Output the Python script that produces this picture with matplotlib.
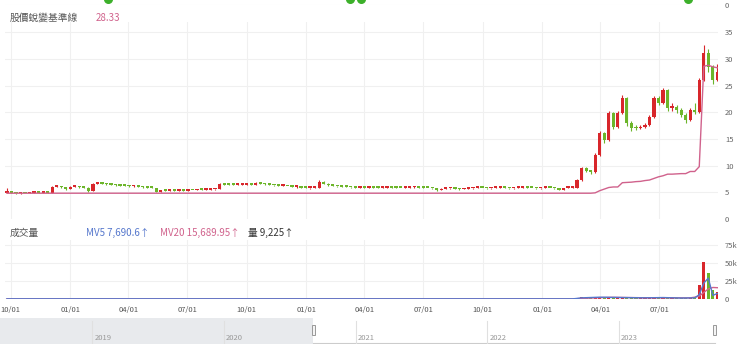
import numpy as np
import pandas as pd
import matplotlib
matplotlib.use('Agg')
import matplotlib.pyplot as plt
import matplotlib.dates as mdates
from matplotlib.patches import Rectangle

plt.rcParams['font.family'] = ['Noto Sans CJK TC', 'DejaVu Sans']

W, H = 740, 350

# weekly candles
week_start = '2020-09-25'
first_open = 4.9
closes = [5.2, 4.9, 4.8, 4.9, 4.85, 4.9, 4.95, 4.9, 5.0, 4.95,
          6.0, 6.1, 5.95, 5.6, 6.0, 6.05, 5.95, 5.9, 5.2, 6.6,
          6.7, 6.6, 6.5, 6.4, 6.3, 6.25, 6.2, 6.1, 6.3, 6.0,
          5.95, 5.9, 5.85, 5.1, 5.3, 5.25, 5.35, 5.3, 5.4, 5.3,
          5.45, 5.4, 5.5, 5.45, 5.5, 5.55, 5.6, 6.5, 6.45, 6.4,
          6.35, 6.4, 6.45, 6.5, 6.4, 6.7, 6.6, 6.5, 6.4, 6.3,
          6.2, 6.2, 6.15, 6.0, 6.0, 5.9, 5.8, 5.8, 5.85, 7.0,
          6.6, 6.3, 6.2, 6.1, 6.05, 6.0, 5.95, 5.9, 5.95, 5.9,
          6.0, 5.9, 5.85, 5.9, 5.95, 5.9, 5.85, 5.8, 5.9, 5.95,
          6.0, 5.9, 5.85, 5.8, 5.75, 5.4, 5.7, 5.75, 5.8, 5.7,
          5.6, 5.7, 5.75, 5.8, 5.85, 5.8, 5.75, 5.8, 5.85, 5.9,
          5.8, 5.75, 5.8, 5.85, 5.9, 5.85, 5.8, 5.75, 5.8, 5.85,
          5.8, 5.75, 5.5, 5.8, 5.85, 5.9, 7.3, 9.6, 9.0, 8.8,
          12.0, 16.1, 14.8, 19.9, 17.3, 19.9, 22.7, 18.0, 17.1, 17.0,
          17.3, 17.6, 19.1, 22.7, 21.8, 24.2, 20.8, 21.0, 20.4, 19.5,
          18.6, 20.4, 20.1, 26.1, 31.1, 28.5, 26.1, 27.6]
highs = [5.9, 5.25, 4.95, 5.0, 4.95, 5.0, 5.05, 5.0, 5.1, 5.05,
         6.2, 6.3, 6.2, 6.0, 6.1, 6.15, 6.1, 6.0, 5.95, 6.8,
         6.9, 6.8, 6.7, 6.6, 6.5, 6.4, 6.3, 6.3, 6.45, 6.35,
         6.1, 6.0, 5.95, 5.9, 5.4, 5.4, 5.45, 5.4, 5.5, 5.45,
         5.55, 5.5, 5.6, 5.55, 5.6, 5.65, 5.7, 6.7, 6.6, 6.55,
         6.5, 6.5, 6.55, 6.6, 6.55, 6.85, 6.75, 6.65, 6.55, 6.45,
         6.35, 6.3, 6.25, 6.2, 6.1, 6.05, 5.95, 5.9, 5.95, 7.3,
         7.1, 6.7, 6.35, 6.25, 6.15, 6.1, 6.05, 6.0, 6.05, 6.0,
         6.1, 6.05, 5.95, 6.0, 6.05, 6.0, 5.95, 5.9, 6.0, 6.05,
         6.1, 6.05, 5.95, 5.9, 5.85, 5.8, 5.8, 5.85, 5.9, 5.85,
         5.75, 5.8, 5.85, 5.9, 5.95, 5.9, 5.85, 5.9, 5.95, 6.0,
         5.95, 5.85, 5.9, 5.95, 6.0, 5.95, 5.9, 5.85, 5.9, 5.95,
         5.9, 5.85, 5.8, 5.9, 5.95, 6.1, 7.5, 9.8, 9.7, 9.2,
         12.3, 16.5, 16.3, 20.3, 20.0, 20.2, 23.2, 22.9, 18.4, 17.6,
         17.7, 18.0, 19.5, 23.0, 23.0, 24.6, 24.4, 21.8, 21.4, 20.8,
         19.8, 20.8, 21.8, 26.5, 32.5, 31.8, 28.8, 29.0]
lows = [4.85, 4.8, 4.7, 4.75, 4.8, 4.8, 4.85, 4.85, 4.85, 4.9,
        4.95, 5.95, 5.9, 5.5, 5.6, 5.95, 5.9, 5.85, 5.1, 5.2,
        6.55, 6.5, 6.45, 6.35, 6.25, 6.2, 6.1, 6.05, 6.05, 5.95,
        5.9, 5.85, 5.8, 5.0, 5.05, 5.2, 5.2, 5.2, 5.25, 5.25,
        5.25, 5.35, 5.35, 5.4, 5.4, 5.45, 5.5, 5.6, 6.4, 6.35,
        6.3, 6.3, 6.35, 6.4, 6.35, 6.35, 6.55, 6.45, 6.35, 6.25,
        6.15, 6.1, 6.1, 5.95, 5.9, 5.85, 5.75, 5.7, 5.75, 5.85,
        6.5, 6.25, 6.15, 6.05, 6.0, 5.95, 5.9, 5.85, 5.85, 5.85,
        5.85, 5.85, 5.8, 5.8, 5.85, 5.85, 5.8, 5.75, 5.75, 5.85,
        5.9, 5.85, 5.8, 5.75, 5.7, 5.3, 5.35, 5.65, 5.7, 5.65,
        5.5, 5.55, 5.65, 5.7, 5.75, 5.75, 5.7, 5.7, 5.75, 5.8,
        5.75, 5.7, 5.7, 5.75, 5.8, 5.8, 5.75, 5.7, 5.7, 5.75,
        5.75, 5.7, 5.4, 5.45, 5.75, 5.8, 5.9, 7.2, 8.8, 8.5,
        8.7, 11.8, 14.2, 14.6, 16.8, 17.0, 19.6, 17.5, 16.4, 16.6,
        16.8, 17.1, 17.4, 18.9, 21.3, 21.5, 20.3, 20.2, 19.9, 19.1,
        18.0, 18.3, 19.6, 19.9, 25.8, 27.5, 25.3, 25.8]

baseline = [4.83] * 130 + [4.9, 5.3, 5.6, 5.9, 6.0, 6.0, 6.8, 6.85, 6.9, 7.0,
                           7.05, 7.2, 7.3, 7.6, 7.9, 8.1, 8.4, 8.4, 8.45, 8.5,
                           8.5, 8.9, 8.9, 9.8, 28.6, 28.8, 28.5, 28.33]

# volume in thousands
volume = [0.2] * 126 + [1.5, 2.5, 1.8, 1.4, 2.8, 3.2, 2.4, 2.6, 2.0, 1.8,
                        2.4, 2.2, 1.6, 1.4, 1.5, 1.6, 2.0, 2.3, 1.9, 2.1,
                        1.7, 1.5, 1.3, 1.2, 1.6, 1.8, 2.0, 19.0, 52.0, 36.0,
                        12.0, 9.225]
mv5 = [0.2] * 126 + [0.8, 1.6, 1.8, 1.9, 2.2, 2.5, 2.4, 2.3, 2.2, 2.1,
                     2.0, 2.0, 1.9, 1.8, 1.7, 1.6, 1.7, 1.9, 2.0, 2.0,
                     1.8, 1.6, 1.4, 1.3, 1.4, 1.5, 1.6, 6.0, 22.0, 29.0,
                     5.0, 7.6906]
mv20 = [0.2] * 126 + [0.5, 0.9, 1.2, 1.4, 1.6, 1.9, 2.1, 2.2, 2.3, 2.2,
                      2.1, 2.1, 2.0, 1.9, 1.8, 1.8, 1.8, 1.9, 1.9, 1.9,
                      1.8, 1.7, 1.6, 1.5, 1.5, 1.6, 2.5, 4.0, 9.0, 14.0,
                      16.0, 15.68995]

event_dates = ['2021-03-01', '2022-03-10', '2022-03-26', '2023-08-15']
quarter_ticks = ['2020-10-01', '2021-01-01', '2021-04-01', '2021-07-01',
                 '2021-10-01', '2022-01-01', '2022-04-01', '2022-07-01',
                 '2022-10-01', '2023-01-01', '2023-04-01', '2023-07-01']
nav_years = ['2019', '2020', '2021', '2022', '2023']
price_ticks = [0, 5, 10, 15, 20, 25, 30, 35]
vol_ticks = [0, 25, 50, 75]
vol_tick_labels = ['0', '25k', '50k', '75k']

RED = '#d8262b'
GREEN = '#6cb52a'
PINK = '#d0628c'
BLUE = '#5577cc'
GRID = '#f0f0f0'
LABEL = '#666666'
TICK_FS = 5.5

dates = pd.date_range(week_start, periods=len(closes), freq='7D')
x = mdates.date2num(dates)
opens = [first_open] + closes[:-1]
up = [c >= o for o, c in zip(opens, closes)]
colors = [RED if u else GREEN for u in up]

x0 = mdates.date2num(pd.Timestamp('2020-09-22'))
x1 = mdates.date2num(pd.Timestamp('2023-09-30'))
qticks = mdates.date2num(pd.to_datetime(quarter_ticks))


def px_axes(fig, l, t, r, b):
    return fig.add_axes([l / W, 1 - b / H, (r - l) / W, (b - t) / H])


def clean(ax):
    for s in ax.spines.values():
        s.set_visible(False)
    ax.tick_params(length=0)


fig = plt.figure(figsize=(W / 100, H / 100), dpi=100)

# thin strip on top (cut off panel above)
ax0 = px_axes(fig, 5, 0, 718, 5)
clean(ax0)
ax0.set_xlim(x0, x1)
ax0.set_ylim(0, 1)
ax0.axhline(0, color='#eeeeee', lw=0.8)
ax0.scatter(mdates.date2num(pd.to_datetime(event_dates)), [1.2] * len(event_dates),
            s=30, color='#3cb02a', clip_on=False, zorder=3)
ax0.set_xticks([])
ax0.yaxis.tick_right()
ax0.set_yticks([0])
ax0.set_yticklabels(['0'], fontsize=TICK_FS, color=LABEL)
ax0.tick_params(axis='y', pad=5)

# price panel
ax = px_axes(fig, 5, 22, 718, 219)
clean(ax)
ax.set_xlim(x0, x1)
ax.set_ylim(0, 36.9)
for t in price_ticks[1:]:
    ax.axhline(t, color=GRID, lw=0.8, zorder=0)
for t in qticks:
    ax.axvline(t, color=GRID, lw=0.8, zorder=0)
ax.vlines(x, lows, highs, colors=colors, lw=0.8, zorder=2)
bottoms = [min(o, c) for o, c in zip(opens, closes)]
heights = [max(abs(c - o), 0.3) for o, c in zip(opens, closes)]
ax.bar(x, heights, bottom=bottoms, width=5.0, color=colors, lw=0, zorder=3)
ax.plot(x, baseline, color=PINK, lw=1.0, zorder=4)
ax.set_xticks([])
ax.yaxis.tick_right()
ax.set_yticks(price_ticks)
ax.set_yticklabels([str(t) for t in price_ticks], fontsize=TICK_FS, color=LABEL)
ax.tick_params(axis='y', pad=5)

fig.text(10 / W, 1 - 18 / H, '股價蛻變基準線', fontsize=7, color='#555555', va='center')
fig.text(96 / W, 1 - 18 / H, '28.33', fontsize=7, color=PINK, va='center')

# volume panel
axv = px_axes(fig, 5, 240, 718, 299)
clean(axv)
axv.set_xlim(x0, x1)
axv.set_ylim(0, 81.9)
for t in vol_ticks[1:]:
    axv.axhline(t, color=GRID, lw=0.8, zorder=0)
for t in qticks:
    axv.axvline(t, color=GRID, lw=0.8, zorder=0)
axv.bar(x, volume, width=5.0, color=colors, lw=0, zorder=2)
axv.plot(x, mv20, color=PINK, lw=1.0, zorder=3)
axv.plot(x, mv5, color=BLUE, lw=1.0, zorder=3)
axv.axhline(0, color='#999999', lw=0.8, zorder=1)
axv.yaxis.tick_right()
axv.set_yticks(vol_ticks)
axv.set_yticklabels(vol_tick_labels, fontsize=TICK_FS, color=LABEL)
axv.tick_params(axis='y', pad=5)
axv.set_xticks(qticks)
axv.xaxis.set_major_formatter(mdates.DateFormatter('%m/%d'))
axv.tick_params(axis='x', labelsize=TICK_FS, labelcolor='#555555', pad=5)

fig.text(10 / W, 1 - 233 / H, '成交量', fontsize=7, color='#555555', va='center')
fig.text(86 / W, 1 - 233 / H, 'MV5 7,690.6↑', fontsize=7, color=BLUE, va='center')
fig.text(160 / W, 1 - 233 / H, 'MV20 15,689.95↑', fontsize=7, color=PINK, va='center')
fig.text(248 / W, 1 - 233 / H, '量 9,225↑', fontsize=7, color='#333333', va='center')

# navigator
axn = px_axes(fig, 0, 318, 717, 344)
clean(axn)
n0 = mdates.date2num(pd.Timestamp('2018-04-20'))
n1 = mdates.date2num(pd.Timestamp('2023-10-01'))
sel0 = mdates.date2num(pd.Timestamp('2020-09-05'))
sel1 = mdates.date2num(pd.Timestamp('2023-09-25'))
axn.set_xlim(n0, n1)
axn.set_ylim(0, 1)
axn.add_patch(Rectangle((n0, 0), sel0 - n0, 1, color='#e8eaed', lw=0))
axn.plot([sel0, sel1], [0.02, 0.02], color='#cccccc', lw=0.8)
for yr in nav_years:
    d = mdates.date2num(pd.Timestamp(yr + '-01-01'))
    axn.axvline(d, ymin=0.05, ymax=0.9, color='#e0e0e0', lw=0.8)
    axn.text(d + 6, 0.22, yr, fontsize=5.5, color='#999999', va='center')
for h in [sel0, sel1]:
    axn.add_patch(Rectangle((h - 4, 0.35), 8, 0.38, facecolor='#f4f4f4',
                            edgecolor='#999999', lw=0.7, zorder=3))
axn.set_xticks([])
axn.set_yticks([])

fig.savefig('out.png', dpi=100)
